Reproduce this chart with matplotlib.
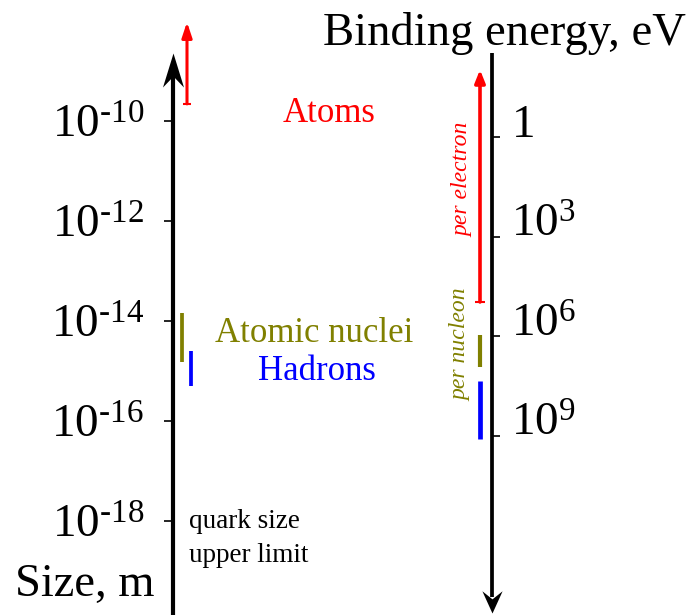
import matplotlib
matplotlib.use('Agg')
import matplotlib.pyplot as plt
from matplotlib.path import Path
from matplotlib.markers import MarkerStyle
from matplotlib.ticker import NullLocator
from matplotlib.transforms import Affine2D

plt.rcParams['font.family'] = 'Liberation Serif'
plt.rcParams['mathtext.fontset'] = 'custom'
plt.rcParams['mathtext.rm'] = 'Liberation Serif'
plt.rcParams['mathtext.it'] = 'Liberation Serif:italic'

# size axis (m)
size_ticks = [1e-10, 1e-12, 1e-14, 1e-16, 1e-18]
size_ticklabels = [r'$10^{\text{-10}}$', r'$10^{\text{-12}}$', r'$10^{\text{-14}}$',
                   r'$10^{\text{-16}}$', r'$10^{\text{-18}}$']
atoms_size = [2.2e-10, 9.5e-9]       # lower bound, arrow tip
nuclei_size = [1.5e-15, 1.45e-14]
hadron_size = [5e-16, 2.5e-15]

# binding energy axis (eV)
energy_ticks = [1, 1e3, 1e6, 1e9]
energy_ticklabels = ['1', r'$10^3$', r'$10^6$', r'$10^9$']
electron_energy = [9.3e4, 9.5e-3]    # start, arrow tip
nuclei_energy = [9.1e5, 8.3e6]
hadron_energy = [2.2e7, 1.2e9]

RED = '#ff0000'
OLIVE = '#808000'
BLUE = '#0000ff'

W, H = 697, 615
fig = plt.figure(figsize=(W / 100, H / 100), dpi=100)
ax = fig.add_axes([0, 0, 1, 1])
ax.set_xlim(0, W)
ax.set_yscale('log')
ax.set_ylim(10 ** -19.88, 10 ** -7.58)
ax2 = ax.twinx()
ax2.set_yscale('log')
ax2.set_ylim(10 ** 14.39, 10 ** -4.12)
ax.patch.set_alpha(0)
for a in (ax, ax2):
    for s in a.spines.values():
        s.set_visible(False)
    a.yaxis.set_minor_locator(NullLocator())
ax.set_xticks([])

x_left, x_right = 172.5, 492

ax.spines['left'].set_position(('data', x_left))
ax.set_yticks(size_ticks)
ax.set_yticklabels(size_ticklabels, va='center_baseline')
ax.tick_params(axis='y', length=6.5, width=1.2, labelsize=34, pad=14)

ax2.spines['right'].set_position(('data', x_right))
ax2.set_yticks(energy_ticks)
ax2.set_yticklabels(energy_ticklabels, va='baseline')
ax2.tick_params(axis='y', length=6, width=1.2, labelsize=34, pad=8)


def head(length, width, notch):
    verts = [(0, 0), (width / 2, -length), (0, -notch), (-width / 2, -length), (0, 0)]
    codes = [Path.MOVETO, Path.LINETO, Path.LINETO, Path.LINETO, Path.CLOSEPOLY]
    return Path(verts, codes)


# black axis arrows
tl = ax.get_xaxis_transform()
ax.plot([x_left, x_left], [0, 0.88], color='black', lw=3, transform=tl,
        clip_on=False, solid_capstyle='butt')
ax.plot(x_left, 1 - 53 / H, transform=tl, clip_on=False, color='black',
        marker=MarkerStyle(head(34, 21, 23)), markersize=49, markeredgewidth=0)
ax.plot([x_right, x_right], [1 - 53 / H, 0.03], color='black', lw=2.7, transform=tl,
        clip_on=False, solid_capstyle='butt')
ax.plot(x_right, 1 - 613 / H, transform=tl, clip_on=False, color='black',
        marker=MarkerStyle(head(22, 20, 14), transform=Affine2D().rotate_deg(180)),
        markersize=32, markeredgewidth=0)

# size ranges
ax.annotate('', xy=(187, atoms_size[1]), xytext=(187, atoms_size[0]),
            arrowprops=dict(arrowstyle='-|>,head_length=0.9,head_width=0.3',
                            color=RED, lw=2.2, shrinkA=0, shrinkB=0))
ax.plot(187, atoms_size[0], marker='_', color=RED, markersize=6, markeredgewidth=1.5)
ax.vlines(182, nuclei_size[0], nuclei_size[1], color=OLIVE, lw=2.7)
ax.vlines(191, hadron_size[0], hadron_size[1], color=BLUE, lw=2.7)

# energy ranges
ax2.annotate('', xy=(480, electron_energy[1]), xytext=(480, electron_energy[0]),
             arrowprops=dict(arrowstyle='-|>,head_length=0.75,head_width=0.3',
                             color=RED, lw=2.6, shrinkA=0, shrinkB=0))
ax2.plot(480, electron_energy[0], marker='_', color=RED, markersize=7, markeredgewidth=1.5)
ax2.vlines(480, nuclei_energy[0], nuclei_energy[1], color=OLIVE, lw=3)
ax2.vlines(480, hadron_energy[0], hadron_energy[1], color=BLUE, lw=3.4)


def label(x, y, s, **kw):
    fig.text(x / W, 1 - y / H, s, **kw)


label(323, 45, 'Binding energy, eV', fontsize=33.6, va='baseline')
label(15, 596, 'Size, m', fontsize=33.5, va='baseline')
label(329, 122, 'Atoms', fontsize=25, color=RED, ha='center', va='baseline')
label(314, 342, 'Atomic nuclei', fontsize=25, color=OLIVE, ha='center', va='baseline')
label(317, 380, 'Hadrons', fontsize=25, color=BLUE, ha='center', va='baseline')
label(189, 528, 'quark size', fontsize=19.5, va='baseline')
label(189, 562, 'upper limit', fontsize=19.5, va='baseline')
label(463, 180, 'per electron', fontsize=17, style='italic', color=RED,
      rotation=90, ha='center', va='center')
label(461, 345, 'per nucleon', fontsize=17, style='italic', color=OLIVE,
      rotation=90, ha='center', va='center')

fig.savefig('out.png', dpi=100)
